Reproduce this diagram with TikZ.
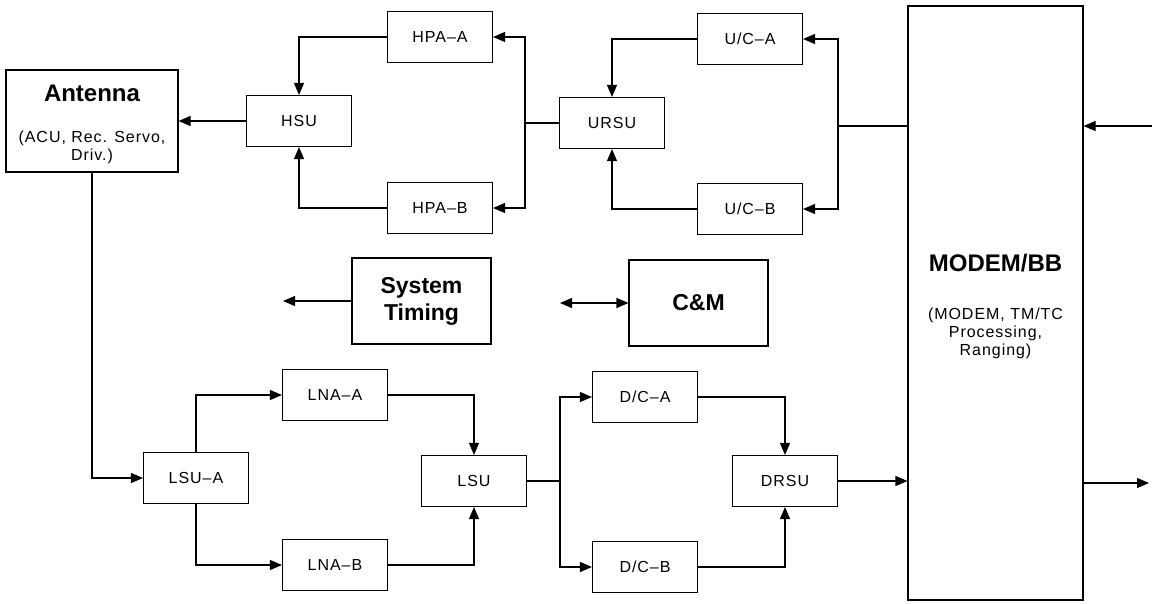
\documentclass[tikz,border=0pt]{standalone}
\usepackage{fontspec}
\setmainfont{Liberation Sans}
\newfontfamily\lblfont[LetterSpace=6]{Liberation Sans}
\usetikzlibrary{arrows.meta}
\tikzset{
  unit/.style={draw, line width=1.1pt, minimum width=105pt, minimum height=51pt,
    inner sep=0pt, font=\lblfont\fontsize{16}{19}\selectfont},
  bigbox/.style={draw, line width=1.1pt, inner sep=0pt},
  head/.style={font=\bfseries\fontsize{24}{28}\selectfont, align=center, inner sep=0pt},
  sub/.style={font=\lblfont\fontsize{16}{18}\selectfont, align=center, inner sep=0pt},
  wire/.style={line width=1.1pt},
  flow/.style={wire, -{Triangle[length=12pt,width=10pt]}},
  both/.style={wire, {Triangle[length=12pt,width=10pt]}-{Triangle[length=12pt,width=10pt]}}
}
\begin{document}
\begin{tikzpicture}[x=1pt, y=-1pt]
\useasboundingbox (0,0) rectangle (1161,603);

% large blocks
\node[bigbox, minimum width=172pt, minimum height=102pt] (ant) at (92,121) {};
\node[head] (anttitle) at (92,93) {Antenna};
\node[sub] (antsub) at (92,147) {(ACU, Rec. Servo,\\Driv.)};

\node[bigbox, minimum width=175pt, minimum height=594pt] (modem) at (995.5,303) {};
\node[head] (modemtitle) at (995.5,263) {MODEM/BB};
\node[sub] (modemsub) at (995.5,333) {(MODEM, TM/TC\\Processing,\\Ranging)};

\node[bigbox, minimum width=139pt, minimum height=86pt, head,
  font=\bfseries\fontsize{23}{27}\selectfont] (tim) at (421.5,301) {System\\Timing};
\node[bigbox, minimum width=139pt, minimum height=86pt, head,
  font=\bfseries\fontsize{23}{27}\selectfont] (cm) at (698.5,303) {C\&M};

% uplink chain
\node[unit] (hsu)  at (299,121) {HSU};
\node[unit] (hpaa) at (440,37)  {HPA–A};
\node[unit] (hpab) at (440,208) {HPA–B};
\node[unit] (ursu) at (612,123) {URSU};
\node[unit] (uca)  at (750,39)  {U/C–A};
\node[unit] (ucb)  at (750,209) {U/C–B};

% downlink chain
\node[unit] (lsua) at (196,478) {LSU–A};
\node[unit] (lnaa) at (335,395) {LNA–A};
\node[unit] (lnab) at (335,565) {LNA–B};
\node[unit] (lsu)  at (474,481) {LSU};
\node[unit] (dca)  at (645,397) {D/C–A};
\node[unit] (dcb)  at (645,567) {D/C–B};
\node[unit] (drsu) at (785,481) {DRSU};

% branch points and free ends
\coordinate (jh) at (525,123);
\coordinate (ju) at (838,126);
\coordinate (jd) at (560,481);
\coordinate (rin) at (1152,126);
\coordinate (rout) at (1149,483);
\coordinate (timout) at (283,301);
\coordinate (cmend) at (560,303);

% uplink wiring
\draw[flow] (hsu.west) -- (hsu.west -| ant.east);
\draw[flow] (hpaa.west) -| (hsu.north);
\draw[flow] (hpab.west) -| (hsu.south);
\draw[wire] (ursu.west) -- (jh);
\draw[flow] (jh) |- (hpaa.east);
\draw[flow] (jh) |- (hpab.east);
\draw[flow] (uca.west) -| (ursu.north);
\draw[flow] (ucb.west) -| (ursu.south);
\draw[wire] (ju -| modem.west) -- (ju);
\draw[flow] (ju) |- (uca.east);
\draw[flow] (ju) |- (ucb.east);
\draw[flow] (rin) -- (rin -| modem.east);

% downlink wiring
\draw[flow] (ant.south) |- (lsua.west);
\draw[flow] (lsua.north) |- (lnaa.west);
\draw[flow] (lsua.south) |- (lnab.west);
\draw[flow] (lnaa.east) -| (lsu.north);
\draw[flow] (lnab.east) -| (lsu.south);
\draw[wire] (lsu.east) -- (jd);
\draw[flow] (jd) |- (dca.west);
\draw[flow] (jd) |- (dcb.west);
\draw[flow] (dca.east) -| (drsu.north);
\draw[flow] (dcb.east) -| (drsu.south);
\draw[flow] (drsu.east) -- (drsu.east -| modem.west);
\draw[flow] (rout -| modem.east) -- (rout);

% timing and control
\draw[flow] (tim.west) -- (timout);
\draw[both] (cmend) -- (cm.west);
\end{tikzpicture}
\end{document}
